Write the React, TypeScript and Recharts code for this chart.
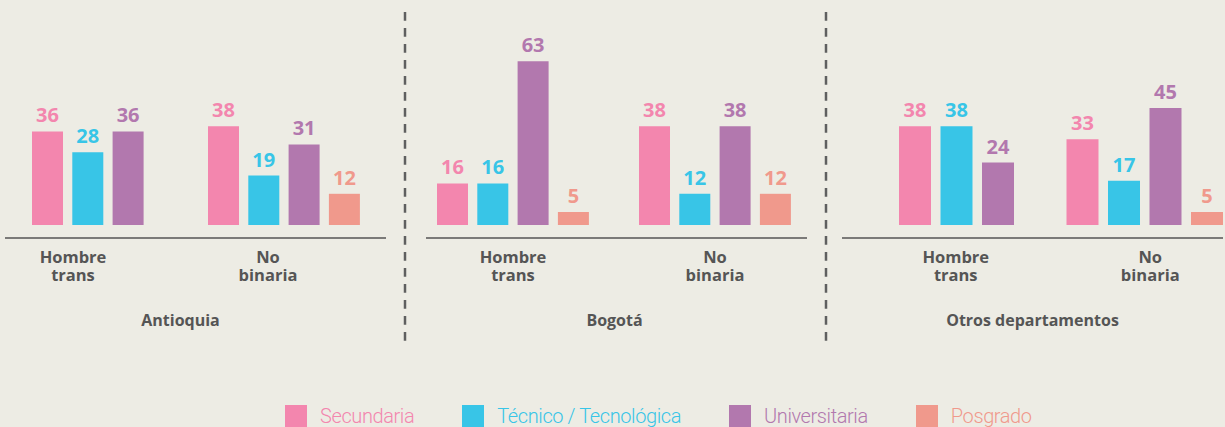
import { BarChart, Bar, XAxis, YAxis, LabelList } from 'recharts'

const REGIONS = ['Antioquia', 'Bogotá', 'Otros departamentos']
const CATEGORIES = ['Hombre trans', 'No binaria']
const SERIES = ['Secundaria', 'Técnico / Tecnológica', 'Universitaria', 'Posgrado']
const KEYS = ['secundaria', 'tecnico', 'universitaria', 'posgrado']
const COLORS = ['#f386ae', '#38c5e7', '#b278ae', '#f0998c']

// one pair per region: [Hombre trans, No binaria]
const SECUNDARIA = [[36, 38], [16, 38], [38, 33]]
const TECNICO = [[28, 19], [16, 12], [38, 17]]
const UNIVERSITARIA = [[36, 31], [63, 38], [24, 45]]
const POSGRADO = [[null, 12], [5, 12], [null, 5]]
const SERIES_VALUES = [SECUNDARIA, TECNICO, UNIVERSITARIA, POSGRADO]

const BG = '#edece4'
const INK = '#555555'

// the source is hand laid out, so every panel gets its own placement
const PANELS = [
  { left: 5, width: 381, pad: { left: 15, right: 14 }, barSize: 31, barGap: 9.3, tickShift: [-35, -16], titleShift: -15 },
  { left: 426, width: 381, pad: { left: -14, right: -9 }, barSize: 31, barGap: 9.3, tickShift: [0, 0], titleShift: -2 },
  { left: 842, width: 381, pad: { left: 51, right: -5 }, barSize: 32, barGap: 9.5, tickShift: [-21, 6], titleShift: 0 },
]

const buildData = (r: number) =>
  CATEGORIES.map((c, i) => {
    const row: Record<string, any> = { name: c }
    KEYS.forEach((k, s) => { row[k] = SERIES_VALUES[s][r][i] })
    return row
  })

const valueLabel = (color: string) => (props: any) => {
  const { x, y, width, value } = props
  if (value == null) return null
  return (
    <text x={x + width / 2} y={y - 9} textAnchor="middle" fill={color}
      style={{ fontFamily: 'Open Sans', fontWeight: 700, fontSize: 20 }}>
      {value}
    </text>
  )
}

function CategoryTick(props: any) {
  const { x, y, payload, index, shift } = props
  const lines = String(payload.value).split(' ')
  const cx = x + (shift[index] || 0)
  return (
    <text x={cx} y={y} textAnchor="middle" fill={INK}
      style={{ fontFamily: 'Open Sans', fontWeight: 700, fontSize: 16.5 }}>
      {lines.map((l, i) => (
        <tspan key={i} x={cx} dy={i === 0 ? 25 : 17.5}>{l}</tspan>
      ))}
    </text>
  )
}

function Panel({ r }: { r: number }) {
  const p = PANELS[r]
  const data = buildData(r)
  return (
    <div style={{ position: 'absolute', left: p.left, top: 0 }}>
      <BarChart width={p.width} height={348} data={data} barSize={p.barSize} barGap={p.barGap}
        margin={{ top: 17, right: 0, bottom: 0, left: 0 }}>
        <YAxis hide type="number" domain={[-5, 80]} allowDataOverflow />
        <XAxis dataKey="name" height={110} padding={p.pad} tickLine={false} tickSize={0} tickMargin={0}
          axisLine={{ stroke: INK, strokeWidth: 1.5 }} interval={0}
          tick={(t: any) => <CategoryTick {...t} shift={p.tickShift} />}
          label={{
            content: (lp: any) => {
              const vb = lp.viewBox
              return (
                <text x={vb.x + vb.width / 2 + p.titleShift} y={vb.y + 88} textAnchor="middle" fill={INK}
                  style={{ fontFamily: 'Open Sans', fontWeight: 700, fontSize: 16 }}>
                  {REGIONS[r]}
                </text>
              )
            },
          }} />
        {KEYS.map((k, s) => (
          <Bar key={k} dataKey={k} fill={COLORS[s]} isAnimationActive={false}>
            <LabelList dataKey={k} content={valueLabel(COLORS[s])} />
          </Bar>
        ))}
      </BarChart>
    </div>
  )
}

export default function App() {
  return (
    <div style={{ position: 'absolute', left: 0, top: 0, width: 1225, height: 427, background: BG, overflow: 'hidden' }}>
      {REGIONS.map((_, r) => <Panel key={r} r={r} />)}
      <svg width={1225} height={427} style={{ position: 'absolute', left: 0, top: 0, pointerEvents: 'none' }}>
        {[405, 826].map(x => (
          <line key={x} x1={x} x2={x} y1={12} y2={341} stroke="#5f5f5f" strokeWidth={2.5} strokeDasharray="8.7 7.3" />
        ))}
      </svg>
      <div style={{ position: 'absolute', left: 285, top: 405, display: 'flex', alignItems: 'center' }}>
        {SERIES.map((s, i) => (
          <div key={s} style={{ display: 'flex', alignItems: 'center', marginRight: i < SERIES.length - 1 ? 48 : 0 }}>
            <span style={{ width: 22, height: 22, background: COLORS[i], marginRight: 13 }} />
            <span style={{ color: COLORS[i], fontFamily: 'Roboto', fontWeight: 300, fontSize: 20, letterSpacing: -0.4, lineHeight: '22px' }}>{s}</span>
          </div>
        ))}
      </div>
    </div>
  )
}
